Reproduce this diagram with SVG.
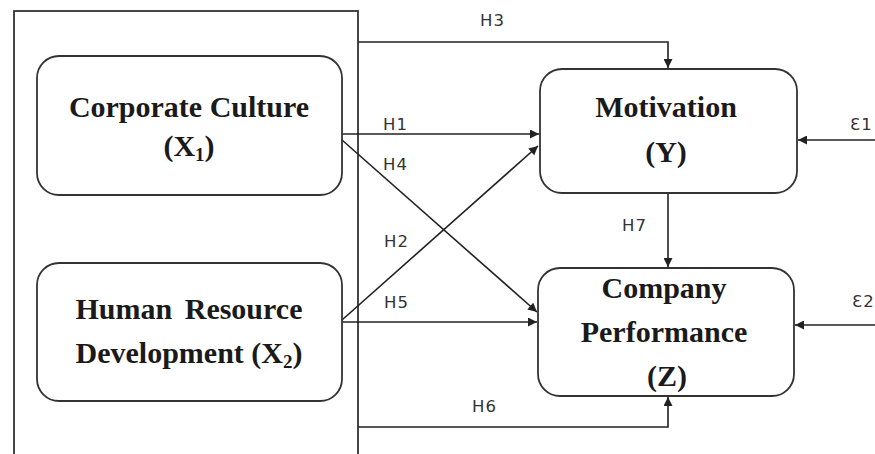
<svg xmlns="http://www.w3.org/2000/svg" width="875" height="454" viewBox="0 0 875 454">
<style>
.box{fill:#fff;stroke:#333;stroke-width:1.8}
.node{font-family:"Liberation Serif","Times New Roman",serif;font-weight:bold;font-size:30px;fill:#1a1a1a;text-anchor:middle}
.sub{font-size:19px}
.lbl{font-family:"DejaVu Sans","Open Sans",sans-serif;font-size:16.5px;fill:#333;letter-spacing:1px}
.c{fill:none;stroke:#222;stroke-width:1.6}
</style>
<defs>
<marker id="arr" viewBox="0 0 10 10" refX="10" refY="5" markerWidth="10" markerHeight="9" markerUnits="userSpaceOnUse" orient="auto">
<path d="M0,0 L10,5 L0,10 z" fill="#222"/>
</marker>
</defs>
<rect x="0" y="0" width="875" height="454" fill="#fff"/>
<g id="outer">
<rect class="box" x="14" y="11" width="344" height="460" fill="none"/>
</g>
<g id="connectors">
<polyline class="c" points="358,42 668,42 668,68" marker-end="url(#arr)"/>
<line class="c" x1="342" y1="134" x2="539" y2="134" marker-end="url(#arr)"/>
<line class="c" x1="342" y1="140" x2="537" y2="312" marker-end="url(#arr)"/>
<line class="c" x1="342" y1="320" x2="538" y2="146" marker-end="url(#arr)"/>
<line class="c" x1="342" y1="322" x2="537" y2="322" marker-end="url(#arr)"/>
<polyline class="c" points="358,427 668,427 668,397" marker-end="url(#arr)"/>
<line class="c" x1="668" y1="193" x2="668" y2="267" marker-end="url(#arr)"/>
<line class="c" x1="875" y1="140" x2="798" y2="140" marker-end="url(#arr)"/>
<line class="c" x1="875" y1="325" x2="795" y2="325" marker-end="url(#arr)"/>
<text class="lbl" x="480" y="26">H3</text>
<text class="lbl" x="383" y="130">H1</text>
<text class="lbl" x="383" y="170">H4</text>
<text class="lbl" x="384" y="247">H2</text>
<text class="lbl" x="384" y="308">H5</text>
<text class="lbl" x="472" y="412">H6</text>
<text class="lbl" x="622" y="231">H7</text>
<text class="lbl" x="850" y="130">Ɛ1</text>
<text class="lbl" x="852" y="307">Ɛ2</text>
</g>
<g id="corporate-culture">
<rect class="box" x="37" y="56" width="305" height="139" rx="22"/>
<text class="node" x="189" y="117">Corporate Culture</text>
<text class="node" x="189" y="156">(X<tspan class="sub" dy="5">1</tspan><tspan dy="-5">)</tspan></text>
</g>
<g id="hrd">
<rect class="box" x="37" y="263" width="305" height="138" rx="22"/>
<text class="node" x="189" y="319" word-spacing="5">Human Resource</text>
<text class="node" x="189" y="363">Development (X<tspan class="sub" dy="5">2</tspan><tspan dy="-5">)</tspan></text>
</g>
<g id="motivation">
<rect class="box" x="540" y="69" width="257" height="124" rx="22"/>
<text class="node" x="666" y="117">Motivation</text>
<text class="node" x="666" y="162">(Y)</text>
</g>
<g id="company-performance">
<rect class="box" x="538" y="268" width="256" height="128" rx="22"/>
<text class="node" x="664" y="298">Company</text>
<text class="node" x="664" y="342">Performance</text>
<text class="node" x="667" y="386">(Z)</text>
</g>
</svg>
